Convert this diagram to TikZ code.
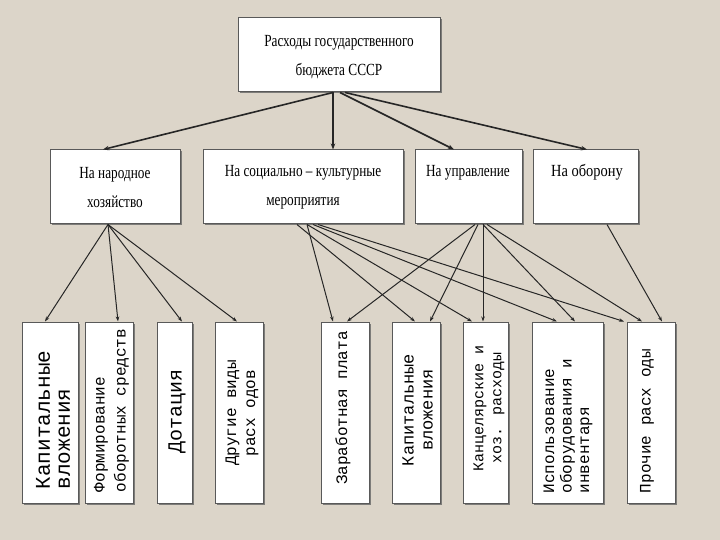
\documentclass[tikz,border=0pt]{standalone}
\usepackage{fontspec}
\setmainfont{Liberation Serif}
\newfontfamily\monof{Liberation Mono}
\usetikzlibrary{arrows.meta,shadows}
\definecolor{bgc}{HTML}{DCD5C9}
\tikzset{
  box/.style={draw=black!65, line width=1pt, fill=white, inner sep=0pt,
    drop shadow={shadow xshift=1.5pt, shadow yshift=-1.5pt, fill=black!60, opacity=0.8}},
  midtxt/.style={font=\fontsize{17}{29}\selectfont, align=center, xscale=0.78, transform shape, inner sep=0pt},
  vt/.style={rotate=90, inner sep=0pt},
  topconn/.style={draw=black!85, line width=1.6pt, -{Stealth[length=6pt,width=4.5pt]}},
  conn/.style={draw=black!85, line width=1pt, -{Stealth[length=5pt,width=3.5pt]}}
}
\begin{document}
\begin{tikzpicture}[x=1pt,y=-1pt]
\fill[bgc] (0,0) rectangle (720,540);
\useasboundingbox (0,0) rectangle (720,540);
% boxes
\node[box, minimum width=202pt, minimum height=74pt] (T) at (339,55) {};
\node[box, minimum width=130pt, minimum height=74pt] (M1) at (115,187) {};
\node[box, minimum width=200pt, minimum height=74pt] (M2) at (303,187) {};
\node[box, minimum width=107pt, minimum height=74pt] (M3) at (468.5,187) {};
\node[box, minimum width=105pt, minimum height=74pt] (M4) at (585.5,187) {};
\node[box, minimum width=56pt, minimum height=181pt] (B1) at (50,412.5) {};
\node[box, minimum width=48pt, minimum height=181pt] (B2) at (109,412.5) {};
\node[box, minimum width=35pt, minimum height=181pt] (B3) at (174.5,412.5) {};
\node[box, minimum width=48pt, minimum height=181pt] (B4) at (239,412.5) {};
\node[box, minimum width=48pt, minimum height=181pt] (B5) at (345,412.5) {};
\node[box, minimum width=48pt, minimum height=181pt] (B6) at (416,412.5) {};
\node[box, minimum width=45pt, minimum height=181pt] (B7) at (485.5,412.5) {};
\node[box, minimum width=71pt, minimum height=181pt] (B8) at (567.5,412.5) {};
\node[box, minimum width=48pt, minimum height=181pt] (B9) at (651,412.5) {};
% top connectors
\draw[topconn] ([xshift=-6pt]T.south) -- ([xshift=-12pt]M1.north);
\draw[topconn] ([xshift=-6pt]T.south) -- ([xshift=30pt]M2.north);
\draw[topconn] ([xshift=1pt]T.south) -- ([xshift=-14.5pt]M3.north);
\draw[topconn] ([xshift=6pt]T.south) -- ([xshift=1.5pt]M4.north);
% from M1
\draw[conn] ([xshift=-7pt]M1.south) -- ([xshift=-5pt]B1.north);
\draw[conn] ([xshift=-7pt]M1.south) -- ([xshift=9pt]B2.north);
\draw[conn] ([xshift=-7pt]M1.south) -- ([xshift=7.5pt]B3.north);
\draw[conn] ([xshift=-7pt]M1.south) -- ([xshift=-2pt]B4.north);
% from M2
\draw[conn] ([xshift=4pt]M2.south) -- ([xshift=-12pt]B5.north);
\draw[conn] ([xshift=-6pt]M2.south) -- ([xshift=-1pt]B6.north);
\draw[conn] ([xshift=4pt]M2.south) -- ([xshift=-13.5pt]B7.north);
\draw[conn] ([xshift=10pt]M2.south) -- ([xshift=-10.5pt]B8.north);
\draw[conn] ([xshift=15pt]M2.south) -- ([xshift=-27pt]B9.north);
% from M3
\draw[conn] ([xshift=6.5pt]M3.south) -- ([xshift=2pt]B5.north);
\draw[conn] ([xshift=9.5pt]M3.south) -- ([xshift=14pt]B6.north);
\draw[conn] ([xshift=14.5pt]M3.south) -- ([xshift=-2.5pt]B7.north);
\draw[conn] ([xshift=14.5pt]M3.south) -- ([xshift=7.5pt]B8.north);
\draw[conn] ([xshift=18.5pt]M3.south) -- ([xshift=-9pt]B9.north);
% from M4
\draw[conn] ([xshift=21.5pt]M4.south) -- ([xshift=11pt]B9.north);
% texts
\node[midtxt] (tT) at (339,57.5) {Расходы государственного\\бюджета СССР};
\node[midtxt] (tM1) at (115,187.5) {На народное\\хозяйство};
\node[midtxt] (tM2) at (303,187.5) {На социально – культурные\\мероприятия};
\node[midtxt] (tM3) at (468,173) {На управление};
\node[midtxt, xscale=1.09] (tM4) at (587,172) {На оборону};
\node[vt, align=left, font=\monof\fontsize{21}{20}\selectfont] (tB1) at (53,420) {Капитальные\\вложения};
\node[vt, align=left, font=\monof\fontsize{16}{21}\selectfont] (tB2) at (111.5,410.5) {Формирование\\оборотных средств};
\node[vt, font=\monof\fontsize{20}{20}\selectfont] (tB3) at (177,411) {Дотация};
\node[vt, align=center, font=\monof\fontsize{16}{19}\selectfont] (tB4) at (242,413) {Другие виды\\расх одов};
\node[vt, font=\monof\fontsize{16}{19}\selectfont] (tB5) at (343,408) {Заработная плата};
\node[vt, align=center, font=\monof\fontsize{17}{19}\selectfont] (tB6) at (417.5,410) {Капитальные\\вложения};
\node[vt, align=center, font=\monof\fontsize{15}{18}\selectfont] (tB7) at (489,408) {Канцелярские и\\хоз. расходы};
\node[vt, align=left, font=\monof\fontsize{16}{17.5}\selectfont] (tB8) at (568,426) {Использование\\оборудования и\\инвентаря};
\node[vt, font=\monof\fontsize{16}{19}\selectfont] (tB9) at (647,421) {Прочие расх оды};
\end{tikzpicture}
\end{document}
